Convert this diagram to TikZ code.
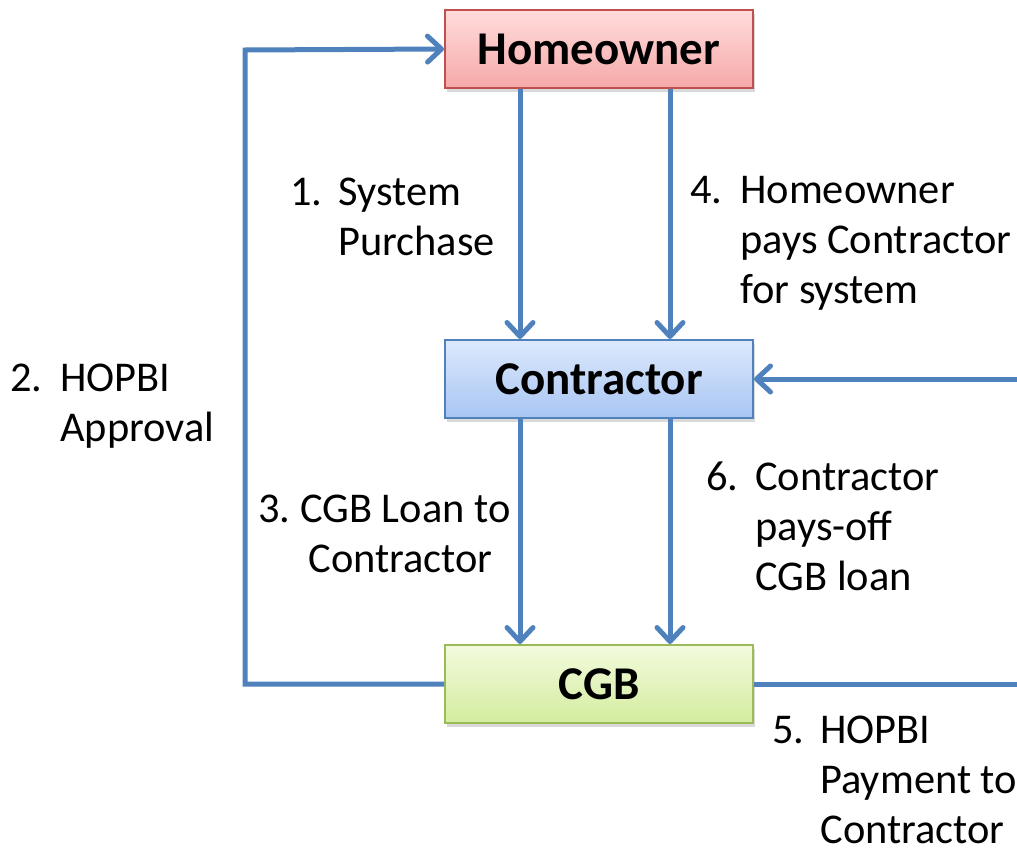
\documentclass[tikz,border=0pt]{standalone}
\usepackage{fontspec}
\setmainfont{Carlito}
\usetikzlibrary{arrows.meta,calc,shadows}

\definecolor{flowblue}{HTML}{4F81BD}
\definecolor{homeTop}{HTML}{FFDCDC}
\definecolor{homeBot}{HTML}{F6A8A8}
\definecolor{homeLine}{HTML}{C0504D}
\definecolor{contrTop}{HTML}{DDE9FC}
\definecolor{contrBot}{HTML}{A8C5F3}
\definecolor{contrLine}{HTML}{4F81BD}
\definecolor{cgbTop}{HTML}{F3FBDD}
\definecolor{cgbBot}{HTML}{D3EC9E}
\definecolor{cgbLine}{HTML}{9BBB59}

\tikzset{
  party/.style={draw, line width=1pt, minimum width=154pt, minimum height=39pt,
    inner sep=0pt, font=\fontsize{23.5}{28}\selectfont\bfseries,
    drop shadow={shadow xshift=1.2pt, shadow yshift=-1.8pt, opacity=0.3}},
  flow/.style={draw=flowblue, line width=2.5pt,
    -{Straight Barb[length=7pt,width=13pt,round]}},
  lbl/.style={anchor=base west, inner sep=0pt, font=\fontsize{21.2}{25}\selectfont}
}
\newcommand{\num}[2]{\makebox[#1pt][l]{#2}}

\begin{document}
\begin{tikzpicture}[x=0.5pt,y=-0.5pt]
\useasboundingbox (0,0) rectangle (1017,851);
\clip (0,0) rectangle (1017,851);

% the three parties
\node[party, draw=homeLine, top color=homeTop, bottom color=homeBot] (home) at (599,49) {Homeowner};
\node[party, draw=contrLine, top color=contrTop, bottom color=contrBot] (contr) at (599,379) {Contractor};
\node[party, draw=cgbLine, top color=cgbTop, bottom color=cgbBot] (cgb) at (599,684) {CGB};

% corners of the outer loops
\coordinate (lcorner) at (245,50);
\coordinate (rcorner) at (1040,684);

% flows
\draw[flow] ($(home.south)+(-79,0)$) -- ($(contr.north)+(-79,0)$);
\draw[flow] ($(home.south)+(71,0)$) -- ($(contr.north)+(71,0)$);
\draw[flow] ($(contr.south)+(-79,0)$) -- ($(cgb.north)+(-79,0)$);
\draw[flow] ($(contr.south)+(71,0)$) -- ($(cgb.north)+(71,0)$);
\draw[flow] (cgb.west) -| (lcorner) -- (home.west);
\draw[flow] (cgb.east) -- (rcorner) |- (contr.east);

% labels
\node[lbl] (l1) at (290,205) {\begin{tabular}[t]{@{}l@{}}\num{24}{1.}System\\\num{24}{}Purchase\end{tabular}};
\node[lbl] (l2) at (10,391) {\begin{tabular}[t]{@{}l@{}}\num{25}{2.}HOPBI\\\num{25}{}Approval\end{tabular}};
\node[lbl] (l3) at (258,522) {\begin{tabular}[t]{@{}l@{}}\num{21}{3.}CGB Loan to\\\num{25}{}Contractor\end{tabular}};
\node[lbl] (l4) at (690,203) {\begin{tabular}[t]{@{}l@{}}\num{25}{4.}Homeowner\\\num{25}{}pays Contractor\\\num{25}{}for system\end{tabular}};
\node[lbl] (l5) at (772,743) {\begin{tabular}[t]{@{}l@{}}\num{24}{5.}HOPBI\\\num{24}{}Payment to\\\num{24}{}Contractor\end{tabular}};
\node[lbl] (l6) at (706,490) {\begin{tabular}[t]{@{}l@{}}\num{24.5}{6.}Contractor\\\num{24.5}{}pays-off\\\num{24.5}{}CGB loan\end{tabular}};
\end{tikzpicture}
\end{document}
